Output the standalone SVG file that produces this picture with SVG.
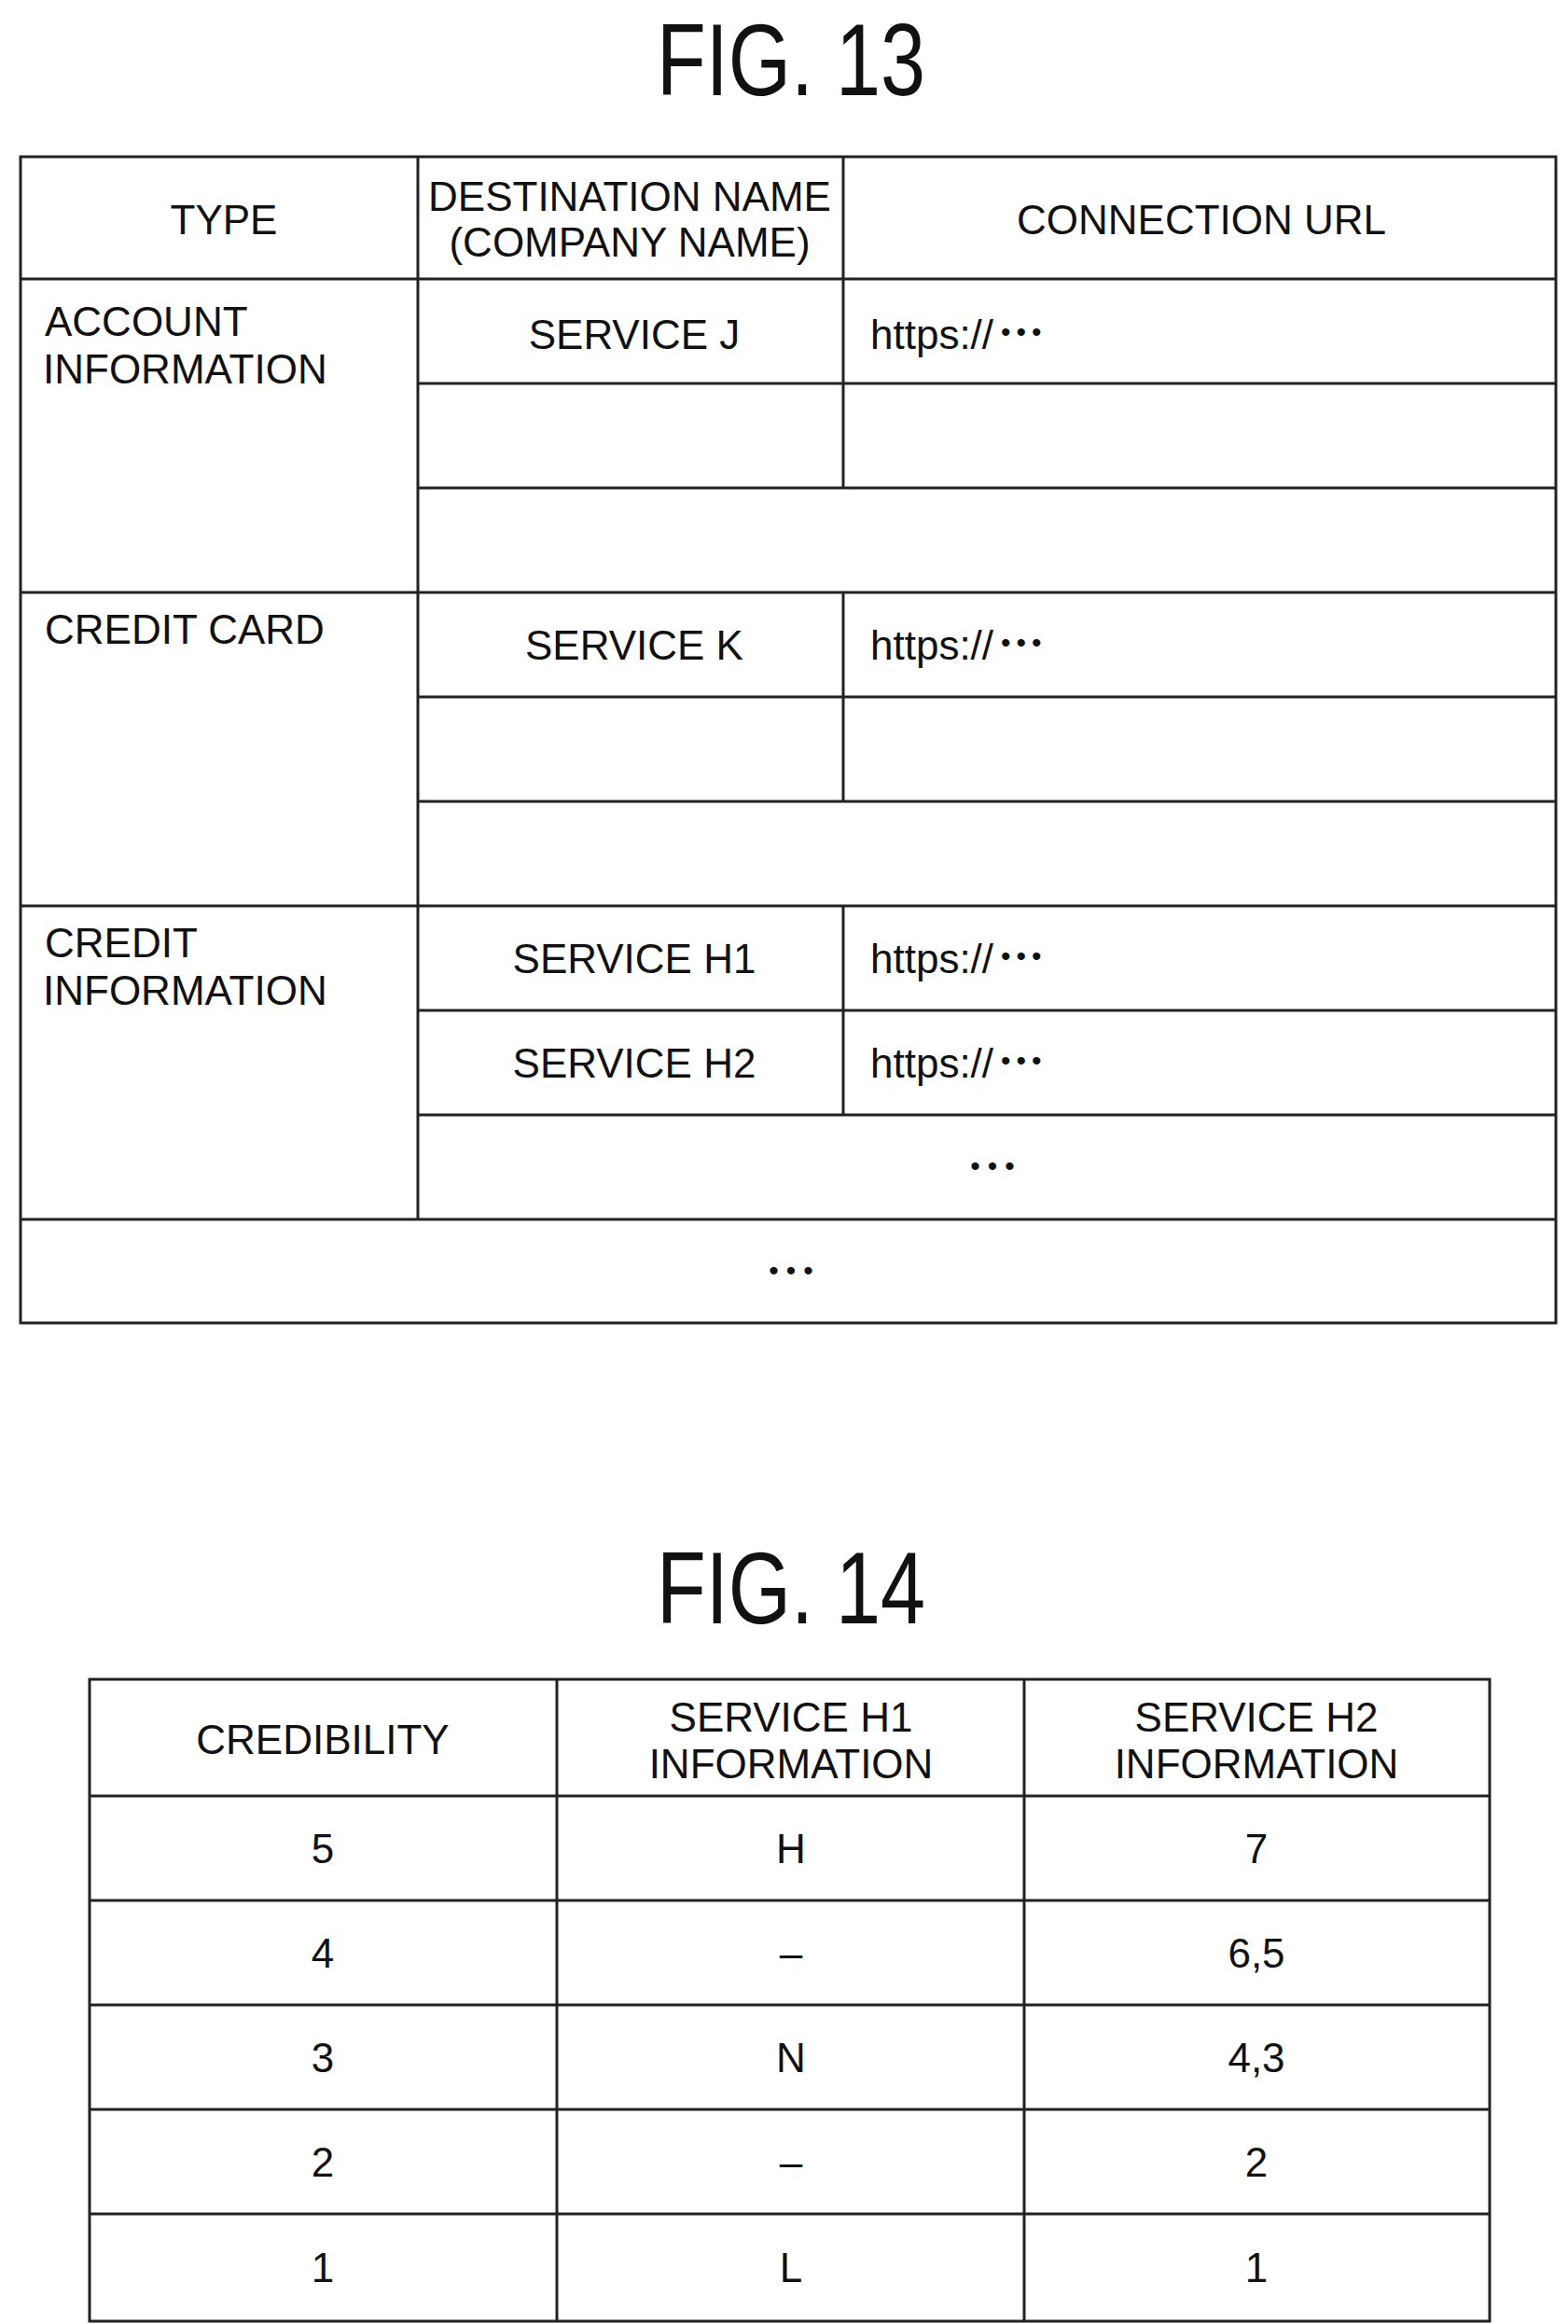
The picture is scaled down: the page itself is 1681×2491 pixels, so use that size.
<svg xmlns="http://www.w3.org/2000/svg" width="1681" height="2491" viewBox="0 0 1681 2491">
<style>
text{font-family:"Liberation Sans",Arial,sans-serif;font-size:44px;fill:#111}
.c{text-anchor:middle}
.t{font-size:110px}
.d{font-size:30px;letter-spacing:6px}
.e{font-size:30px;letter-spacing:8px}
.k line,.k rect{stroke:#222;stroke-width:3;fill:none}
</style>
<rect width="1681" height="2491" style="fill:#fff;stroke:none"/>
<g id="fig13-title"><text class="c t" x="848" y="102" textLength="288" lengthAdjust="spacingAndGlyphs">FIG. 13</text></g>
<g id="connectors" class="k">
<rect x="22" y="168" width="1646" height="1250"/>
<line x1="22" y1="299" x2="1668" y2="299"/>
<line x1="22" y1="635" x2="1668" y2="635"/>
<line x1="22" y1="971" x2="1668" y2="971"/>
<line x1="22" y1="1307" x2="1668" y2="1307"/>
<line x1="448" y1="168" x2="448" y2="1307"/>
<line x1="904" y1="168" x2="904" y2="523"/>
<line x1="904" y1="635" x2="904" y2="859"/>
<line x1="904" y1="971" x2="904" y2="1195"/>
<line x1="448" y1="411" x2="1668" y2="411"/>
<line x1="448" y1="523" x2="1668" y2="523"/>
<line x1="448" y1="747" x2="1668" y2="747"/>
<line x1="448" y1="859" x2="1668" y2="859"/>
<line x1="448" y1="1083" x2="1668" y2="1083"/>
<line x1="448" y1="1195" x2="1668" y2="1195"/>
<rect x="96" y="1800" width="1501" height="688"/>
<line x1="597" y1="1800" x2="597" y2="2488"/>
<line x1="1098" y1="1800" x2="1098" y2="2488"/>
<line x1="96" y1="1925" x2="1597" y2="1925"/>
<line x1="96" y1="2037" x2="1597" y2="2037"/>
<line x1="96" y1="2149" x2="1597" y2="2149"/>
<line x1="96" y1="2261" x2="1597" y2="2261"/>
<line x1="96" y1="2373" x2="1597" y2="2373"/>
</g>
<g id="fig13-header">
<text class="c" x="240" y="251">TYPE</text>
<text class="c" x="675" y="226">DESTINATION NAME</text>
<text class="c" x="675" y="275">(COMPANY NAME)</text>
<text class="c" x="1288" y="251">CONNECTION URL</text>
</g>
<g id="fig13-account">
<text x="48" y="360">ACCOUNT</text>
<text x="46" y="411">INFORMATION</text>
<text class="c" x="680" y="374">SERVICE J</text>
<text x="933" y="374">https://<tspan class="d" dx="8" dy="-8">•••</tspan></text>
</g>
<g id="fig13-card">
<text x="48" y="690">CREDIT CARD</text>
<text class="c" x="680" y="707">SERVICE K</text>
<text x="933" y="707">https://<tspan class="d" dx="8" dy="-8">•••</tspan></text>
</g>
<g id="fig13-credit">
<text x="48" y="1026">CREDIT</text>
<text x="46" y="1077">INFORMATION</text>
<text class="c" x="680" y="1043">SERVICE H1</text>
<text x="933" y="1043">https://<tspan class="d" dx="8" dy="-8">•••</tspan></text>
<text class="c" x="680" y="1155">SERVICE H2</text>
<text x="933" y="1155">https://<tspan class="d" dx="8" dy="-8">•••</tspan></text>
<text class="c e" x="1068" y="1260">•••</text>
<text class="c e" x="852" y="1372">•••</text>
</g>
<g id="fig14-title"><text class="c t" x="848" y="1740" textLength="288" lengthAdjust="spacingAndGlyphs">FIG. 14</text></g>
<g id="fig14-header">
<text class="c" x="346" y="1880">CREDIBILITY</text>
<text class="c" x="848" y="1856">SERVICE H1</text>
<text class="c" x="848" y="1906">INFORMATION</text>
<text class="c" x="1347" y="1856">SERVICE H2</text>
<text class="c" x="1347" y="1906">INFORMATION</text>
</g>
<g id="fig14-rows">
<text class="c" x="346" y="1997">5</text><text class="c" x="848" y="1997">H</text><text class="c" x="1347" y="1997">7</text>
<text class="c" x="346" y="2109">4</text><text class="c" x="848" y="2109">–</text><text class="c" x="1347" y="2109">6,5</text>
<text class="c" x="346" y="2221">3</text><text class="c" x="848" y="2221">N</text><text class="c" x="1347" y="2221">4,3</text>
<text class="c" x="346" y="2333">2</text><text class="c" x="848" y="2333">–</text><text class="c" x="1347" y="2333">2</text>
<text class="c" x="346" y="2446">1</text><text class="c" x="848" y="2446">L</text><text class="c" x="1347" y="2446">1</text>
</g>
</svg>
